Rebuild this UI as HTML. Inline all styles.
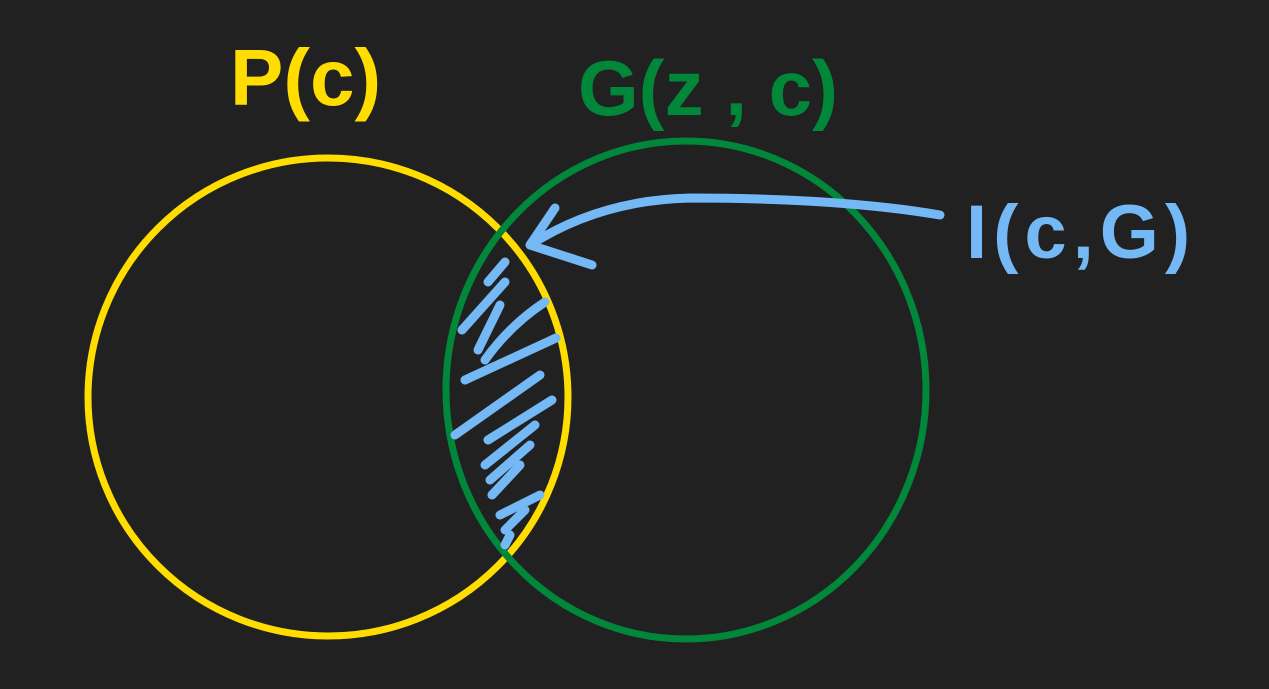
<!DOCTYPE html>
<html>
<head>
<meta charset="utf-8">
<style>
  html, body { margin: 0; padding: 0; background: #212121; }
  svg { display: block; }
  text { font-family: "Liberation Sans", "DejaVu Sans", sans-serif; }
</style>
</head>
<body>
<svg width="1269" height="689" viewBox="0 0 1269 689">
  <rect x="0" y="0" width="1269" height="689" fill="#212121"/>

  <ellipse cx="328" cy="397" rx="240" ry="239" fill="none" stroke="#FFDD00" stroke-width="7"/>
  <ellipse cx="686" cy="390" rx="240" ry="249" fill="none" stroke="#00873A" stroke-width="7"/>

  <g stroke="#74B9F5" stroke-width="9" stroke-linecap="round" fill="none">
    <path d="M505 262 L488 282"/>
    <path d="M505 282 L462 330"/>
    <path d="M500 305 L478 350"/>
    <path d="M545 302 Q510 325 485 360"/>
    <path d="M556 338 L465 380"/>
    <path d="M540 375 L455 435"/>
    <path d="M552 400 L488 440"/>
    <path d="M535 425 L485 465"/>
    <path d="M530 445 L490 480"/>
    <path d="M520 465 L492 495"/>
    <path d="M540 495 L500 515"/>
    <path d="M525 510 L505 530"/>
    <path d="M510 535 L505 545"/>
  </g>

  <path d="M940 215 Q840 198 690 198 Q600 200 530 245 M555 208 L530 245 L592 265" stroke="#74B9F5" stroke-width="9" stroke-linecap="round" stroke-linejoin="round" fill="none"/>

  <text x="230" y="105" font-size="80" font-weight="bold" fill="#FFDD00">P(c)</text>
  <text x="578" y="115" font-size="78" font-weight="bold" fill="#00873A">G(z , c)</text>
  <text x="966" y="258" font-size="76" font-weight="bold" letter-spacing="6" fill="#74B9F5">I(c,G)</text>
</svg>
</body>
</html>
